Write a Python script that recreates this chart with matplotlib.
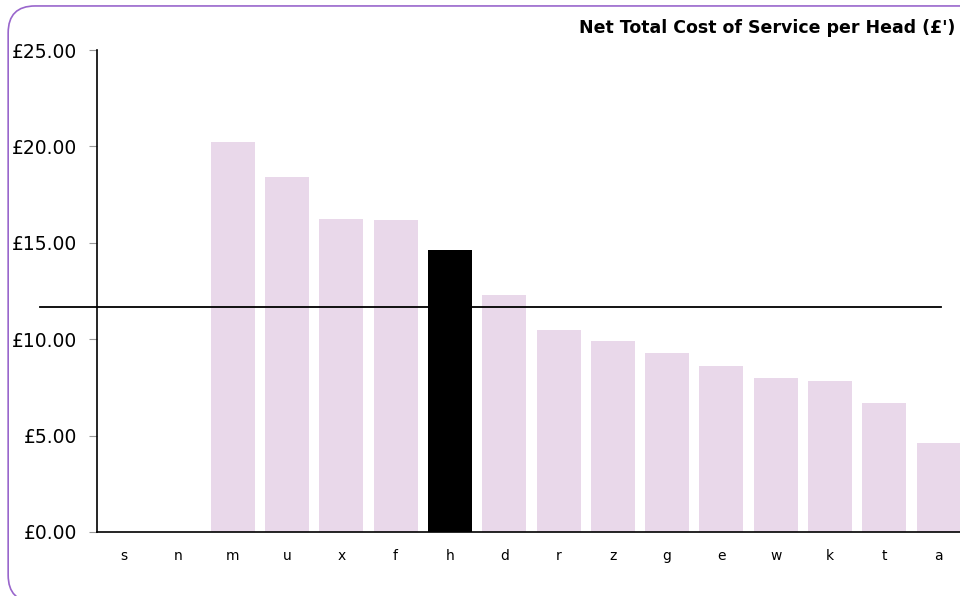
import numpy as np
import matplotlib.pyplot as plt
from matplotlib.patches import FancyBboxPatch
from matplotlib.ticker import FuncFormatter

categories = ['s', 'n', 'm', 'u', 'x', 'f', 'h', 'd', 'r', 'z', 'g', 'e', 'w', 'k', 't', 'a']
values = [0, 0, 20.23, 18.43, 16.23, 16.2, 14.63, 12.29, 10.48, 9.9, 9.28, 8.6, 7.99, 7.83, 6.69, 4.62]
highlight = 'h'
average = 11.69
title = "Net Total Cost of Service per Head (£')"

fig = plt.figure(figsize=(9.6, 5.96), dpi=100)
ax = fig.add_axes([0.101, 0.1074, 0.905, 0.8087])

x = np.arange(len(categories))
colors = ['black' if c == highlight else '#e9d8ea' for c in categories]
ax.bar(x, values, width=0.81, color=colors)

ax.plot([-1.55, 15.04], [average, average], color='black', lw=1.3, clip_on=False)

ax.set_xlim(-0.5, len(categories) - 0.5)
ax.set_ylim(0, 25)
ax.set_yticks(np.arange(0, 26, 5))
ax.yaxis.set_major_formatter(FuncFormatter(lambda v, p: '£%.2f' % v))
ax.set_xticks(x)
ax.set_xticklabels(categories)

for s in ['top', 'right']:
    ax.spines[s].set_visible(False)
ax.spines['left'].set_linewidth(1.2)
ax.spines['bottom'].set_linewidth(1.2)
ax.tick_params(axis='y', length=6, color='#999999', labelsize=13.5, pad=8)
ax.tick_params(axis='x', length=0, labelsize=10, pad=12)

fig.text(0.995, 0.953, title, ha='right', va='center', fontsize=12.5, fontweight='bold')

border = FancyBboxPatch((0.0085, -0.01), 1.05, 1.0, boxstyle='round,pad=0,rounding_size=0.028',
                        transform=fig.transFigure, fill=False, edgecolor='#9966cc', lw=1.2,
                        mutation_aspect=960 / 596)
fig.patches.append(border)

fig.savefig('out.png', dpi=100)
